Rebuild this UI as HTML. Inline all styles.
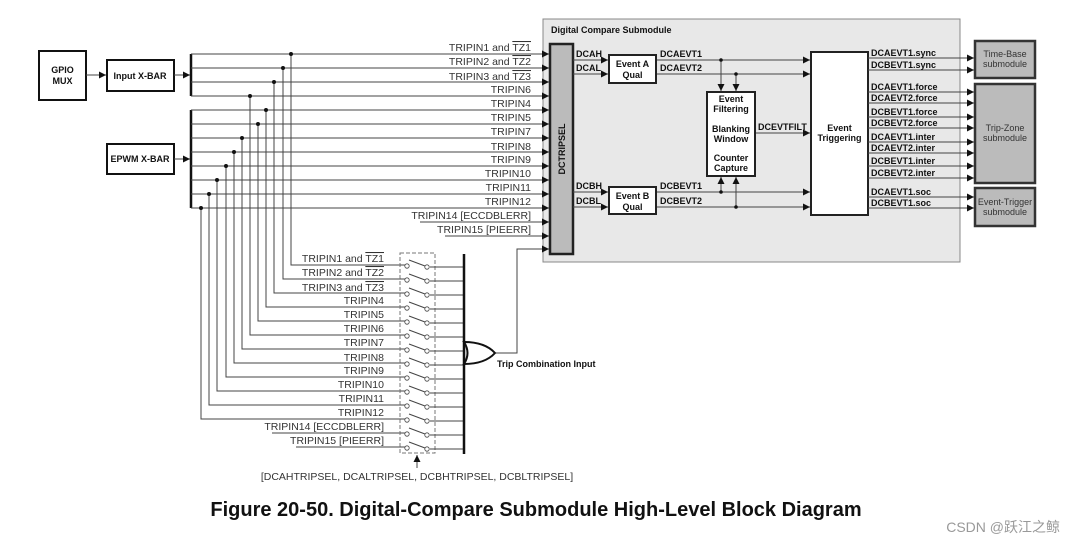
<!DOCTYPE html>
<html><head><meta charset="utf-8"><style>
html,body{margin:0;padding:0;background:#fff;}
svg{display:block;font-family:"Liberation Sans",Arial,sans-serif;}
.t{font-size:10.5px;fill:#333;}
.b{font-size:9px;font-weight:bold;fill:#111;}
.w{stroke:#444;stroke-width:1;fill:none;}
</style></head><body>
<svg width="1074" height="545" viewBox="0 0 1074 545" xmlns="http://www.w3.org/2000/svg">
<defs>
<marker id="a" markerWidth="8" markerHeight="8" refX="7" refY="4" orient="auto" markerUnits="userSpaceOnUse"><path d="M0,0.5 L7,4 L0,7.5z" fill="#111"/></marker>
</defs>

<rect x="39" y="51" width="47" height="49" fill="#fff" stroke="#111" stroke-width="2"/>
<text x="62.5" y="73" class="b" text-anchor="middle">GPIO</text>
<text x="62.5" y="84" class="b" text-anchor="middle">MUX</text>
<line x1="86" y1="75" x2="106" y2="75" class="w" stroke="#111" marker-end="url(#a)"/>
<rect x="107" y="60" width="67" height="31" fill="#fff" stroke="#111" stroke-width="2"/>
<text x="140" y="79" class="b" text-anchor="middle">Input  X-BAR</text>
<line x1="174" y1="75" x2="190" y2="75" class="w" stroke="#111" marker-end="url(#a)"/>
<line x1="191" y1="54" x2="191" y2="96" stroke="#111" stroke-width="2.5"/>
<rect x="107" y="144" width="67" height="30" fill="#fff" stroke="#111" stroke-width="2"/>
<text x="140" y="162" class="b" text-anchor="middle">EPWM X-BAR</text>
<line x1="174" y1="159" x2="190" y2="159" class="w" stroke="#111" marker-end="url(#a)"/>
<line x1="191" y1="110" x2="191" y2="208" stroke="#111" stroke-width="2.5"/>

<rect x="543" y="19" width="417" height="243" fill="#e8e8e8" stroke="#888" stroke-width="1"/>
<text x="551" y="33" class="b">Digital Compare Submodule</text>

<g class="w">
<line x1="191" y1="54" x2="549" y2="54" marker-end="url(#a)"/>
<line x1="191" y1="68" x2="549" y2="68" marker-end="url(#a)"/>
<line x1="191" y1="82" x2="549" y2="82" marker-end="url(#a)"/>
<line x1="191" y1="96" x2="549" y2="96" marker-end="url(#a)"/>
<line x1="191" y1="110" x2="549" y2="110" marker-end="url(#a)"/>
<line x1="191" y1="124" x2="549" y2="124" marker-end="url(#a)"/>
<line x1="191" y1="138" x2="549" y2="138" marker-end="url(#a)"/>
<line x1="191" y1="152" x2="549" y2="152" marker-end="url(#a)"/>
<line x1="191" y1="166" x2="549" y2="166" marker-end="url(#a)"/>
<line x1="191" y1="180" x2="549" y2="180" marker-end="url(#a)"/>
<line x1="191" y1="194" x2="549" y2="194" marker-end="url(#a)"/>
<line x1="191" y1="208" x2="549" y2="208" marker-end="url(#a)"/>
<line x1="420" y1="222" x2="549" y2="222" marker-end="url(#a)"/>
<line x1="445" y1="236" x2="549" y2="236" marker-end="url(#a)"/>
<polyline points="495,353 517,353 517,249 549,249" marker-end="url(#a)"/>
</g>
<g class="t" text-anchor="end">
<text x="531" y="51">TRIPIN1 and <tspan text-decoration="overline">TZ1</tspan></text>
<text x="531" y="65">TRIPIN2 and <tspan text-decoration="overline">TZ2</tspan></text>
<text x="531" y="80">TRIPIN3 and <tspan text-decoration="overline">TZ3</tspan></text>
<text x="531" y="93">TRIPIN6</text>
<text x="531" y="107">TRIPIN4</text>
<text x="531" y="121">TRIPIN5</text>
<text x="531" y="135">TRIPIN7</text>
<text x="531" y="150">TRIPIN8</text>
<text x="531" y="163">TRIPIN9</text>
<text x="531" y="177">TRIPIN10</text>
<text x="531" y="191">TRIPIN11</text>
<text x="531" y="205">TRIPIN12</text>
<text x="531" y="219">TRIPIN14 [ECCDBLERR]</text>
<text x="531" y="233">TRIPIN15 [PIEERR]</text>
</g>

<g class="w">
<polyline points="291,54 291,265 400,265"/>
<polyline points="283,68 283,279 400,279"/>
<polyline points="274,82 274,293 400,293"/>
<polyline points="266,110 266,307 400,307"/>
<polyline points="258,124 258,321 400,321"/>
<polyline points="250,96 250,335 400,335"/>
<polyline points="242,138 242,349 400,349"/>
<polyline points="234,152 234,363 400,363"/>
<polyline points="226,166 226,377 400,377"/>
<polyline points="217,180 217,391 400,391"/>
<polyline points="209,194 209,405 400,405"/>
<polyline points="201,208 201,419 400,419"/>
<line x1="272" y1="433" x2="400" y2="433"/>
<line x1="296" y1="447" x2="400" y2="447"/>
</g>
<g fill="#111">
<circle cx="291" cy="54" r="2"/><circle cx="283" cy="68" r="2"/><circle cx="274" cy="82" r="2"/>
<circle cx="250" cy="96" r="2"/><circle cx="266" cy="110" r="2"/><circle cx="258" cy="124" r="2"/>
<circle cx="242" cy="138" r="2"/><circle cx="234" cy="152" r="2"/><circle cx="226" cy="166" r="2"/>
<circle cx="217" cy="180" r="2"/><circle cx="209" cy="194" r="2"/><circle cx="201" cy="208" r="2"/>
</g>
<g class="t" text-anchor="end">
<text x="384" y="262">TRIPIN1 and <tspan text-decoration="overline">TZ1</tspan></text>
<text x="384" y="276">TRIPIN2 and <tspan text-decoration="overline">TZ2</tspan></text>
<text x="384" y="291">TRIPIN3 and <tspan text-decoration="overline">TZ3</tspan></text>
<text x="384" y="304">TRIPIN4</text>
<text x="384" y="318">TRIPIN5</text>
<text x="384" y="332">TRIPIN6</text>
<text x="384" y="346">TRIPIN7</text>
<text x="384" y="361">TRIPIN8</text>
<text x="384" y="374">TRIPIN9</text>
<text x="384" y="388">TRIPIN10</text>
<text x="384" y="402">TRIPIN11</text>
<text x="384" y="416">TRIPIN12</text>
<text x="384" y="430">TRIPIN14 [ECCDBLERR]</text>
<text x="384" y="444">TRIPIN15 [PIEERR]</text>
</g>

<rect x="400" y="253" width="35" height="200" fill="none" stroke="#777" stroke-dasharray="4,2"/>
<g class="w">
<path d="M400,265h5M409,260l16,6M430,267h34"/>
<path d="M400,279h5M409,274l16,6M430,281h34"/>
<path d="M400,293h5M409,288l16,6M430,295h34"/>
<path d="M400,307h5M409,302l16,6M430,309h34"/>
<path d="M400,321h5M409,316l16,6M430,323h34"/>
<path d="M400,335h5M409,330l16,6M430,337h34"/>
<path d="M400,349h5M409,344l16,6M430,351h34"/>
<path d="M400,363h5M409,358l16,6M430,365h34"/>
<path d="M400,377h5M409,372l16,6M430,379h34"/>
<path d="M400,391h5M409,386l16,6M430,393h34"/>
<path d="M400,405h5M409,400l16,6M430,407h34"/>
<path d="M400,419h5M409,414l16,6M430,421h34"/>
<path d="M400,433h5M409,428l16,6M430,435h34"/>
<path d="M400,447h5M409,442l16,6M430,449h34"/>
</g>
<g fill="#fff" stroke="#444" stroke-width="0.8">
<circle cx="407" cy="266" r="2.2"/><circle cx="427" cy="267" r="2.2"/>
<circle cx="407" cy="280" r="2.2"/><circle cx="427" cy="281" r="2.2"/>
<circle cx="407" cy="294" r="2.2"/><circle cx="427" cy="295" r="2.2"/>
<circle cx="407" cy="308" r="2.2"/><circle cx="427" cy="309" r="2.2"/>
<circle cx="407" cy="322" r="2.2"/><circle cx="427" cy="323" r="2.2"/>
<circle cx="407" cy="336" r="2.2"/><circle cx="427" cy="337" r="2.2"/>
<circle cx="407" cy="350" r="2.2"/><circle cx="427" cy="351" r="2.2"/>
<circle cx="407" cy="364" r="2.2"/><circle cx="427" cy="365" r="2.2"/>
<circle cx="407" cy="378" r="2.2"/><circle cx="427" cy="379" r="2.2"/>
<circle cx="407" cy="392" r="2.2"/><circle cx="427" cy="393" r="2.2"/>
<circle cx="407" cy="406" r="2.2"/><circle cx="427" cy="407" r="2.2"/>
<circle cx="407" cy="420" r="2.2"/><circle cx="427" cy="421" r="2.2"/>
<circle cx="407" cy="434" r="2.2"/><circle cx="427" cy="435" r="2.2"/>
<circle cx="407" cy="448" r="2.2"/><circle cx="427" cy="449" r="2.2"/>
</g>
<line x1="464" y1="254" x2="464" y2="454" stroke="#111" stroke-width="2.5"/>
<path d="M464,342 Q485,342 495,353 Q485,364 464,364 Q471,353 464,342z" fill="#fff" stroke="#111" stroke-width="2"/>
<text x="497" y="367" class="b">Trip Combination Input</text>
<line x1="417" y1="468" x2="417" y2="455" class="w" stroke="#111" marker-end="url(#a)"/>
<text x="417" y="480" class="t" text-anchor="middle">[DCAHTRIPSEL, DCALTRIPSEL, DCBHTRIPSEL, DCBLTRIPSEL]</text>

<rect x="550" y="44" width="23" height="210" fill="#bbb" stroke="#222" stroke-width="2.5"/>
<text transform="translate(565,149) rotate(-90)" class="b" text-anchor="middle">DCTRIPSEL</text>

<g class="w" stroke="#222">
<line x1="573" y1="60" x2="608" y2="60" marker-end="url(#a)"/>
<line x1="573" y1="74" x2="608" y2="74" marker-end="url(#a)"/>
<line x1="573" y1="192" x2="608" y2="192" marker-end="url(#a)"/>
<line x1="573" y1="207" x2="608" y2="207" marker-end="url(#a)"/>
<line x1="656" y1="60" x2="810" y2="60" marker-end="url(#a)"/>
<line x1="656" y1="74" x2="810" y2="74" marker-end="url(#a)"/>
<line x1="656" y1="192" x2="810" y2="192" marker-end="url(#a)"/>
<line x1="656" y1="207" x2="810" y2="207" marker-end="url(#a)"/>
<line x1="721" y1="60" x2="721" y2="91" marker-end="url(#a)"/>
<line x1="736" y1="74" x2="736" y2="91" marker-end="url(#a)"/>
<line x1="721" y1="192" x2="721" y2="177" marker-end="url(#a)"/>
<line x1="736" y1="207" x2="736" y2="177" marker-end="url(#a)"/>
<line x1="755" y1="133" x2="810" y2="133" marker-end="url(#a)"/>
</g>
<g fill="#111"><circle cx="721" cy="60" r="1.8"/><circle cx="736" cy="74" r="1.8"/><circle cx="721" cy="192" r="1.8"/><circle cx="736" cy="207" r="1.8"/></g>
<g class="b">
<text x="576" y="57">DCAH</text><text x="576" y="71">DCAL</text>
<text x="576" y="189">DCBH</text><text x="576" y="204">DCBL</text>
<text x="660" y="57">DCAEVT1</text><text x="660" y="71">DCAEVT2</text>
<text x="660" y="189">DCBEVT1</text><text x="660" y="204">DCBEVT2</text>
<text x="758" y="130">DCEVTFILT</text>
</g>
<rect x="609" y="55" width="47" height="28" fill="#fff" stroke="#222" stroke-width="2"/>
<text x="632.5" y="67" class="b" text-anchor="middle">Event A</text>
<text x="632.5" y="78" class="b" text-anchor="middle">Qual</text>
<rect x="609" y="187" width="47" height="27" fill="#fff" stroke="#222" stroke-width="2"/>
<text x="632.5" y="199" class="b" text-anchor="middle">Event B</text>
<text x="632.5" y="210" class="b" text-anchor="middle">Qual</text>

<rect x="707" y="92" width="48" height="84" fill="#fff" stroke="#222" stroke-width="2"/>
<g class="b" text-anchor="middle">
<text x="731" y="102">Event</text><text x="731" y="112">Filtering</text>
<text x="731" y="132">Blanking</text><text x="731" y="142">Window</text>
<text x="731" y="161">Counter</text><text x="731" y="171">Capture</text>
</g>

<rect x="811" y="52" width="57" height="163" fill="#fff" stroke="#222" stroke-width="2"/>
<text x="839.5" y="131" class="b" text-anchor="middle">Event</text>
<text x="839.5" y="141" class="b" text-anchor="middle">Triggering</text>

<g class="w" stroke="#222">
<line x1="868" y1="58" x2="974" y2="58" marker-end="url(#a)"/>
<line x1="868" y1="70" x2="974" y2="70" marker-end="url(#a)"/>
<line x1="868" y1="92" x2="974" y2="92" marker-end="url(#a)"/>
<line x1="868" y1="103" x2="974" y2="103" marker-end="url(#a)"/>
<line x1="868" y1="117" x2="974" y2="117" marker-end="url(#a)"/>
<line x1="868" y1="128" x2="974" y2="128" marker-end="url(#a)"/>
<line x1="868" y1="142" x2="974" y2="142" marker-end="url(#a)"/>
<line x1="868" y1="153" x2="974" y2="153" marker-end="url(#a)"/>
<line x1="868" y1="166" x2="974" y2="166" marker-end="url(#a)"/>
<line x1="868" y1="178" x2="974" y2="178" marker-end="url(#a)"/>
<line x1="868" y1="197" x2="974" y2="197" marker-end="url(#a)"/>
<line x1="868" y1="208" x2="974" y2="208" marker-end="url(#a)"/>
</g>
<g class="b">
<text x="871" y="56">DCAEVT1.sync</text><text x="871" y="68">DCBEVT1.sync</text>
<text x="871" y="90">DCAEVT1.force</text><text x="871" y="101">DCAEVT2.force</text>
<text x="871" y="115">DCBEVT1.force</text><text x="871" y="126">DCBEVT2.force</text>
<text x="871" y="140">DCAEVT1.inter</text><text x="871" y="151">DCAEVT2.inter</text>
<text x="871" y="164">DCBEVT1.inter</text><text x="871" y="176">DCBEVT2.inter</text>
<text x="871" y="195">DCAEVT1.soc</text><text x="871" y="206">DCBEVT1.soc</text>
</g>
<g fill="#bbb" stroke="#333" stroke-width="2.5">
<rect x="975" y="41" width="60" height="37"/>
<rect x="975" y="84" width="60" height="99"/>
<rect x="975" y="188" width="60" height="38"/>
</g>
<g class="t" text-anchor="middle" style="font-size:9px">
<text x="1005" y="57">Time-Base</text><text x="1005" y="67">submodule</text>
<text x="1005" y="131">Trip-Zone</text><text x="1005" y="141">submodule</text>
<text x="1005" y="205">Event-Trigger</text><text x="1005" y="215">submodule</text>
</g>

<text x="536" y="516" text-anchor="middle" style="font-size:20px;font-weight:bold;fill:#111">Figure 20-50. Digital-Compare Submodule High-Level Block Diagram</text>
<text x="1060" y="532" text-anchor="end" style="font-size:14px;fill:#999;font-family:'Liberation Sans','Noto Sans CJK SC',sans-serif">CSDN @跃江之鲸</text>
</svg>
</body></html>
